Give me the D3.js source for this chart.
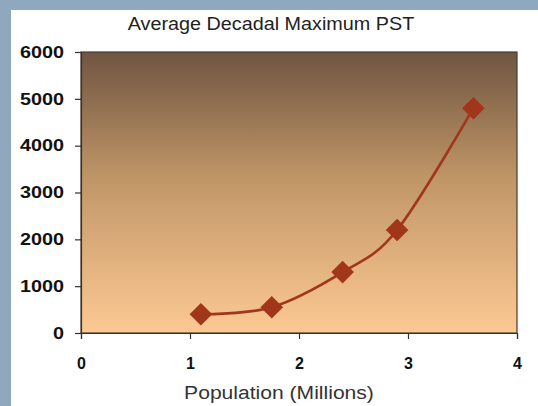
<!DOCTYPE html>
<html><head><meta charset="utf-8">
<script src="https://cdn.jsdelivr.net/npm/d3@7"></script>
<style>body{margin:0;background:#8fa8bd;}svg{display:block;}</style>
</head><body>
<svg id="c" width="538" height="406"></svg>
<script>
const population = [1.1, 1.75, 2.4, 2.9, 3.6];
const maxPST = [400, 550, 1300, 2200, 4800];
const xTicks = [0, 1, 2, 3, 4];
const yTicks = [0, 1000, 2000, 3000, 4000, 5000, 6000];
const title = "Average Decadal Maximum PST";
const xLabel = "Population (Millions)";

const svg = d3.select("#c");
svg.append("rect").attr("width",538).attr("height",406).attr("fill","#8fa8bd");
svg.append("rect").attr("x",11).attr("y",10).attr("width",527).attr("height",396).attr("fill","#ffffff");

const m = {left:81, right:517, top:52, bottom:333};
const x = d3.scaleLinear().domain([0,4]).range([m.left, m.right]);
const y = d3.scaleLinear().domain([0,6000]).range([m.bottom, m.top]);

const defs = svg.append("defs");
const g = defs.append("linearGradient").attr("id","bg").attr("x1",0).attr("y1",0).attr("x2",0).attr("y2",1);
g.append("stop").attr("offset","0%").attr("stop-color","#6f5541");
g.append("stop").attr("offset","45%").attr("stop-color","#c09667");
g.append("stop").attr("offset","100%").attr("stop-color","#fdc993");

svg.append("rect").attr("x",m.left).attr("y",m.top).attr("width",m.right-m.left).attr("height",m.bottom-m.top)
  .attr("fill","url(#bg)").attr("stroke","#4a3a2e").attr("stroke-width",1.2);

const font = "Liberation Sans, Arial, sans-serif";
const yAxis = svg.append("g").attr("transform",`translate(${m.left},0)`)
  .call(d3.axisLeft(y).tickValues(yTicks).tickSize(6).tickPadding(11).tickFormat(d3.format("d")));
const xAxis = svg.append("g").attr("transform",`translate(0,${m.bottom})`)
  .call(d3.axisBottom(x).tickValues(xTicks).tickSize(6).tickPadding(19).tickFormat(d3.format("d")));
[yAxis, xAxis].forEach(a=>{
  a.selectAll("path,line").attr("stroke","#333").attr("stroke-width",1.2);
  a.selectAll("text").attr("fill","#111").style("font-family",font)
   .style("font-size","16px").style("font-weight","bold");
});
const sx = 1.2;
yAxis.selectAll("text").style("font-size","16.5px")
  .attr("x", -17/sx).attr("transform", `scale(${sx},1)`);

const data = population.map((p,i)=>({p, v:maxPST[i]}));
const line = d3.line().x(d=>x(d.p)).y(d=>y(d.v)).curve(d3.curveCatmullRom.alpha(0));
svg.append("path").datum(data).attr("d",line).attr("fill","none").attr("stroke","#a1361c").attr("stroke-width",2.6);

svg.selectAll(".pt").data(data).enter().append("rect")
  .attr("x",-8).attr("y",-8).attr("width",16).attr("height",16)
  .attr("transform",d=>`translate(${x(d.p)},${y(d.v)}) rotate(45)`)
  .attr("fill","#a2361b");

svg.append("text").attr("transform","translate(271,30) scale(1.07,1)").attr("text-anchor","middle")
  .style("font-family",font).style("font-size","18.5px").attr("fill","#222").text(title);
svg.append("text").attr("transform","translate(279,399) scale(1.11,1)").attr("text-anchor","middle")
  .style("font-family",font).style("font-size","19px").attr("fill","#333").text(xLabel);
</script>
</body></html>
